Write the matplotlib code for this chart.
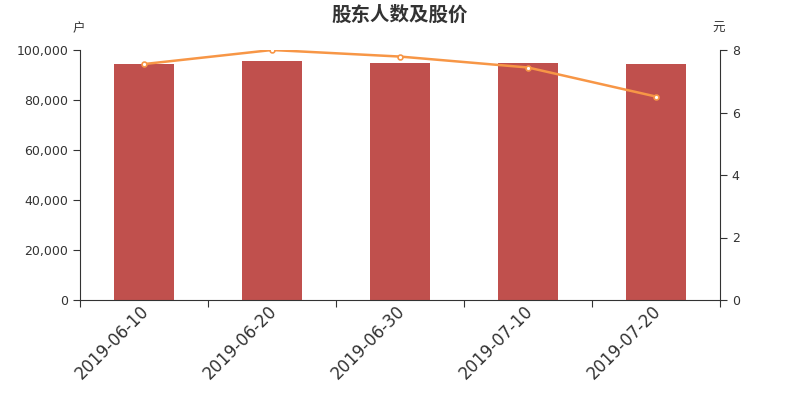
import matplotlib
matplotlib.use("Agg")
import matplotlib.pyplot as plt
import matplotlib.transforms as mtransforms
import numpy as np

plt.rcParams['font.family'] = ['DejaVu Sans', 'Noto Sans CJK SC']

dates = ["2019-06-10", "2019-06-20", "2019-06-30", "2019-07-10", "2019-07-20"]
holders = [94600, 95800, 94800, 94800, 94400]
prices = [7.55, 8.00, 7.79, 7.44, 6.51]

fig = plt.figure(figsize=(8, 4), dpi=100)
ax = fig.add_axes([0.1, 0.25, 0.8, 0.625])
x = np.arange(len(dates))
ax.bar(x, holders, width=0.47, color='#c0504d', zorder=2)
ax.set_xlim(-0.5, len(dates) - 0.5)
ax.set_ylim(0, 100000)
ax.set_yticks(np.arange(0, 100001, 20000))
ax.set_yticklabels([f"{v:,}" for v in range(0, 100001, 20000)])
ax.set_xticks(np.arange(-0.5, len(dates), 1.0))
ax.set_xticklabels([])
ax.set_xticks(x, minor=True)
ax.set_xticklabels(dates, minor=True, rotation=45, ha='right', rotation_mode='anchor',
                   fontsize=12, color='#333333')
ax.tick_params(axis='x', which='minor', length=0, pad=4)
ax.tick_params(axis='x', which='major', length=5, color='#333333')
ax.tick_params(axis='y', length=5, color='#333333', labelcolor='#333333', labelsize=9)
offset = mtransforms.ScaledTranslation(-4 / 100, 3 / 100, fig.dpi_scale_trans)
for lbl in ax.get_xticklabels(minor=True):
    lbl.set_transform(lbl.get_transform() + offset)
for s in ['top', 'right']:
    ax.spines[s].set_visible(False)
for s in ['left', 'bottom']:
    ax.spines[s].set_color('#333333')

ax2 = ax.twinx()
ax2.plot(x, prices, color='#f79646', lw=1.8, marker='o', markersize=3.5,
         markerfacecolor='white', markeredgecolor='#f79646', markeredgewidth=1.2, zorder=3)
ax2.set_ylim(0, 8)
ax2.set_yticks([0, 2, 4, 6, 8])
ax2.tick_params(axis='y', length=5, color='#333333', labelcolor='#333333', labelsize=9)
for s in ['top', 'left', 'bottom']:
    ax2.spines[s].set_visible(False)
ax2.spines['right'].set_color('#333333')

fig.text(0.5, 0.963, "股东人数及股价", ha='center', va='center', fontsize=14,
         fontweight='bold', color='#333333', family=['Noto Sans CJK SC'])
fig.text(0.098, 0.928, "户", ha='center', va='center', fontsize=9, color='#333333',
         family=['Noto Sans CJK SC'])
fig.text(0.898, 0.928, "元", ha='center', va='center', fontsize=9, color='#333333',
         family=['Noto Sans CJK SC'])

fig.savefig("out.png", dpi=100)
